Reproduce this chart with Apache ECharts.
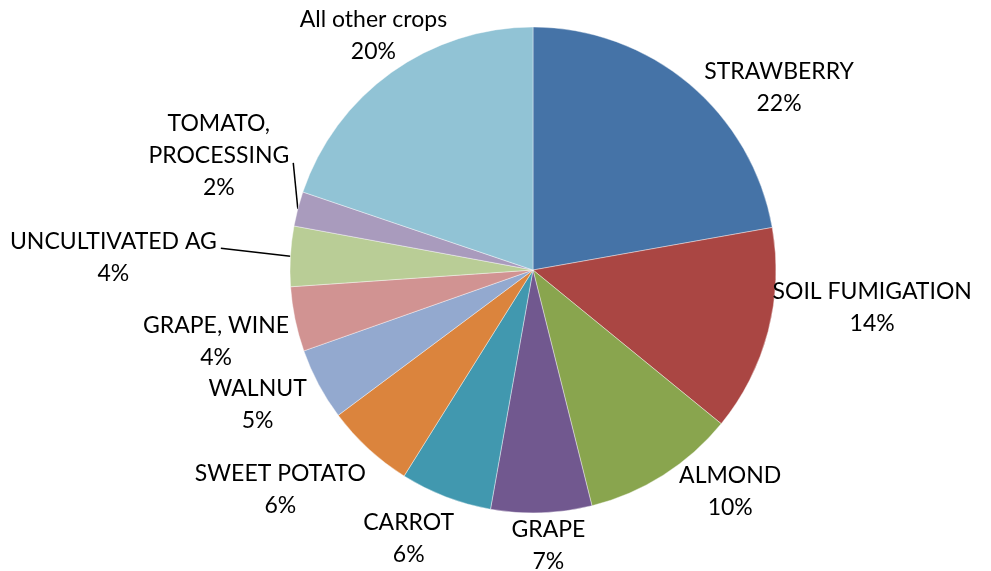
<!DOCTYPE html>
<html>
<head>
<meta charset="utf-8">
<script src="https://cdn.jsdelivr.net/npm/echarts@6/dist/echarts.min.js"></script>
<style>
  html, body { margin: 0; padding: 0; background: #ffffff; }
  #chart { width: 991px; height: 571px; }
</style>
</head>
<body>
<div id="chart"></div>
<script>
// ---- data ----
const categories = [
  'STRAWBERRY', 'SOIL FUMIGATION', 'ALMOND', 'GRAPE', 'CARROT',
  'SWEET POTATO', 'WALNUT', 'GRAPE, WINE', 'UNCULTIVATED AG',
  'TOMATO,\nPROCESSING', 'All other crops'
];
const shares = [22.2, 13.7, 10.2, 6.7, 6.1, 5.9, 4.8, 4.3, 4.0, 2.3, 19.8];

// ---- styling / layout ----
const colors = ['#4573A7', '#AA4643', '#89A54E', '#71588F', '#4198AF', '#DB843D',
                '#93A9CF', '#D19392', '#B9CD96', '#A99BBD', '#91C3D5'];
const CX = 533, CY = 270, R = 243;
const FONT = 'Lato';
const FONT_SIZE = 23;
const LINE_H = 32;
// label centre offset from the slice's outer mid-point (layout only)
const labelShift = [
  [90, 4], [104, -24], [67, 16], [7, 33], [-37, 42], [-88, 41],
  [-61, 20], [-79, 22], [-177, 1], [-79, -53], [-18, -37]
];
const withLeader = [false, false, false, false, false, false, false, false, true, true, false];

const total = shares.reduce((a, b) => a + b, 0);
const midAngles = [];
(function () {
  let acc = 0;
  shares.forEach(v => {
    midAngles.push(((acc + v / 2) / total) * Math.PI * 2);
    acc += v;
  });
})();

const chart = echarts.init(document.getElementById('chart'), null, { renderer: 'canvas' });

chart.setOption({
  backgroundColor: '#ffffff',
  animation: false,
  color: colors,
  series: [{
    type: 'pie',
    center: [CX, CY],
    radius: R,
    startAngle: 90,
    clockwise: true,
    avoidLabelOverlap: false,
    percentPrecision: 0,
    itemStyle: { borderColor: '#ffffff', borderWidth: 0.4 },
    label: {
      show: true,
      position: 'outside',
      formatter: '{b}\n{d}%',
      color: '#000000',
      fontFamily: FONT,
      fontSize: FONT_SIZE,
      lineHeight: LINE_H
    },
    labelLine: { show: false, lineStyle: { color: '#000000', width: 1.5 } },
    emphasis: { disabled: true },
    labelLayout: function (params) {
      const i = params.dataIndex;
      const a = midAngles[i];
      const ax = CX + R * Math.sin(a);
      const ay = CY - R * Math.cos(a);
      const x = ax + labelShift[i][0];
      const y = ay + labelShift[i][1];
      const out = { x: x, y: y, align: 'center', verticalAlign: 'middle' };
      if (withLeader[i]) {
        const lines = params.text.split('\n');
        let wi = 0;
        lines.forEach((l, k) => { if (l.length > lines[wi].length) wi = k; });
        const ly = y + (wi - (lines.length - 1) / 2) * LINE_H + 7;
        const lx = x + params.labelRect.width / 2 + 4;
        out.labelLinePoints = [[ax, ay], [lx, ly], [lx, ly]];
      }
      return out;
    },
    data: categories.map((name, i) => ({
      name: name,
      value: shares[i],
      labelLine: { show: withLeader[i] }
    }))
  }]
});
</script>
</body>
</html>
